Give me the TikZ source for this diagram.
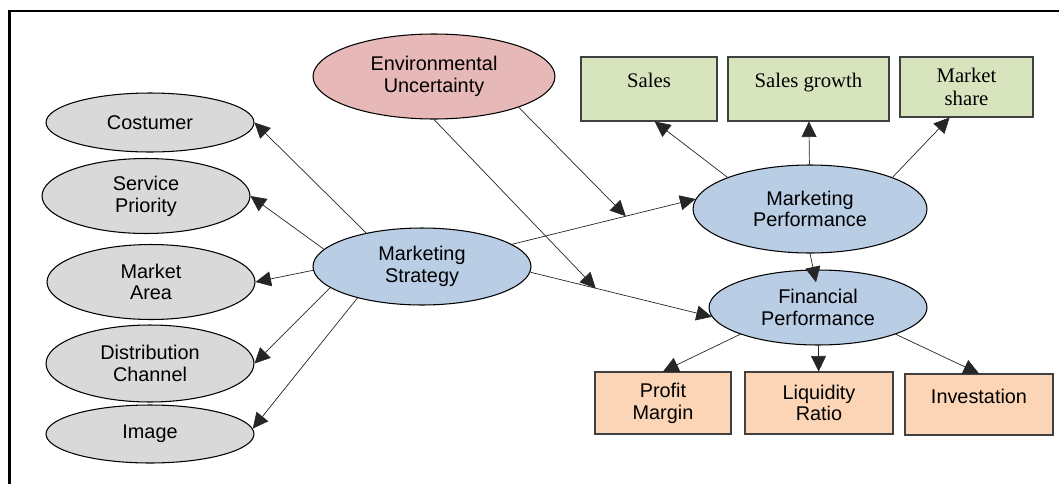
\documentclass[tikz,border=0pt]{standalone}
\usepackage{fontspec}
\setmainfont{Liberation Sans}
\newfontfamily\timesfont{Liberation Serif}
\usetikzlibrary{arrows.meta,shapes}

\tikzset{
  oval/.style={ellipse,draw=black,line width=0.6pt,inner sep=0pt,align=center,
    font=\fontsize{11.3}{12.4}\selectfont},
  gbox/.style={rectangle,draw=black!75,line width=0.6pt,fill=cgreen,inner sep=0pt,
    align=center,font=\timesfont\fontsize{11.8}{13.2}\selectfont},
  obox/.style={rectangle,draw=black!75,line width=0.6pt,fill=corange,inner sep=0pt,
    align=center,font=\fontsize{11.3}{12.4}\selectfont},
  oneline/.style={text height=0.3cm,text depth=0.35cm},
  link/.style={-{Triangle[length=0.31cm,width=0.3cm]},line width=0.4pt,draw=black!85},
}

\begin{document}
\begin{tikzpicture}[x=0.02cm,y=-0.02cm]
%
\useasboundingbox (0,0) rectangle (1059,484);
%
\definecolor{cgrey}{rgb}{0.851,0.851,0.851}
\definecolor{cpink}{rgb}{0.902,0.722,0.718}
\definecolor{cblue}{rgb}{0.725,0.804,0.898}
\definecolor{cgreen}{rgb}{0.843,0.894,0.741}
\definecolor{corange}{rgb}{0.984,0.835,0.710}
%
\draw[line width=1.2pt] (9.5,484) |- (1059,10.8);
%
\node[oval,fill=cgrey,minimum width=4.16cm,minimum height=1.18cm] (cost) at (150,122.5) {Costumer};
\node[oval,fill=cgrey,minimum width=4.16cm,minimum height=1.5cm] (sp) at (146,196) {Service\\Priority};
\node[oval,fill=cgrey,minimum width=4.16cm,minimum height=1.5cm] (ma) at (151,282) {Market\\Area};
\node[oval,fill=cgrey,minimum width=4.16cm,minimum height=1.54cm] (dc) at (150,363.5) {Distribution\\Channel};
\node[oval,fill=cgrey,minimum width=4.16cm,minimum height=1.16cm] (img) at (150,434) {Image};
%
\node[oval,fill=cblue,minimum width=4.36cm,minimum height=1.54cm] (ms) at (422,266.5) {Marketing\\Strategy};
\node[oval,fill=cpink,minimum width=4.84cm,minimum height=1.7cm] (eu) at (434,76.5) {Environmental\\Uncertainty};
\node[oval,fill=cblue,minimum width=4.68cm,minimum height=1.76cm] (mp) at (810,209) {Marketing\\Performance};
\node[oval,fill=cblue,minimum width=4.36cm,minimum height=1.5cm] (fp) at (818,307.5) {Financial\\Performance};
%
\node[gbox,oneline,minimum width=2.72cm,minimum height=1.28cm] (sales) at (649,89) {Sales};
\node[gbox,oneline,minimum width=3.22cm,minimum height=1.28cm] (sg) at (808.5,89) {Sales growth};
\node[gbox,minimum width=2.66cm,minimum height=1.2cm] (msh) at (966.5,87) {Market\\share};
%
\node[obox,minimum width=2.72cm,minimum height=1.24cm] (pm) at (663,403) {Profit\\Margin};
\node[obox,minimum width=2.96cm,minimum height=1.24cm] (liq) at (819,403) {Liquidity\\Ratio};
\node[obox,oneline,minimum width=2.96cm,minimum height=1.22cm] (inv) at (979,404.5) {Investation};
%
\draw[link] (ms.149) -- (cost.east);
\draw[link] (ms.170) -- (sp.east);
\draw[link] (ms.182) -- (ma.east);
\draw[link] (ms.193) -- (dc.east);
\draw[link] (ms.206) -- (img.3);
%
\draw[link] (ms) -- coordinate[pos=0.62] (m1) (mp.175);
\draw[link] (ms.-3) -- coordinate[pos=0.36] (m2) (fp.185);
\draw[link] (eu.-20) -- (m1);
\draw[link] (eu.south) -- (m2);
%
\draw[link] (mp.159) -- (sales.-80);
\draw[link] (mp) -- (sg);
\draw[link] (mp.21) -- (msh.-119);
\draw[link,shorten >=-0.26cm] (mp.south) -- (fp.97);
%
\draw[link] (fp.199) -- (pm.north);
\draw[link] (fp) -- (liq);
\draw[link] (fp.-19) -- (inv.north);
%
\end{tikzpicture}
\end{document}
